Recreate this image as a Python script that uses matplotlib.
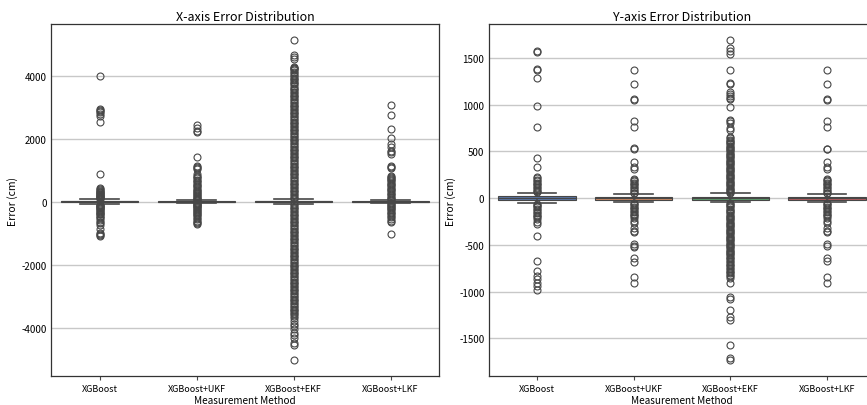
import matplotlib
matplotlib.use("Agg")
import matplotlib.pyplot as plt

plt.rcParams['font.family'] = ['Noto Sans CJK KR', 'DejaVu Sans']
plt.rcParams['axes.unicode_minus'] = False

methods = ["XGBoost", "XGBoost+UKF", "XGBoost+EKF", "XGBoost+LKF"]
box_colors = ["#5975a4", "#cc8963", "#5f9e6e", "#b55d60"]

# ---- X-axis error: box statistics (cm) ----
x_med = [5, 0, 5, 0]
x_q1 = [-25, -15, -25, -15]
x_q3 = [30, 15, 30, 15]
x_whislo = [-80, -45, -80, -45]
x_whishi = [85, 45, 80, 45]

x_fliers_xgb = [3980, 2950, 2920, 2880, 2850, 2780, 2720, 2520, 870, 420, 390, 370,
                340, 310, 290, 270, 250, 230, 210, 190, 170, 150, 130, 110, 95,
                -100, -115, -130, -150, -170, -190, -210, -240, -260, -290, -320,
                -350, -380, -410, -450, -490, -530, -600, -650, -690, -730, -880,
                -990, -1020, -1060, -1100]
x_fliers_ukf = [2440, 2350, 2250, 2200, 1410, 1130, 1100, 1070, 1050, 870, 820, 780,
                740, 700, 650, 610, 570, 530, 490, 450, 410, 370, 330, 300, 270, 240,
                210, 180, 150, 120, 90, 70, 55,
                -55, -70, -90, -110, -130, -150, -180, -210, -240, -270, -300, -330,
                -360, -400, -430, -470, -510, -560, -610, -650, -690, -720]
x_fliers_ekf = [5130, 4640, 4580, 4520, 4280, 4250, 4230, 4200,
                4170, 4120, 4075, 4030, 3980, 3935, 3890, 3845, 3800, 3760, 3720, 3665,
                3610, 3570, 3530, 3485, 3440, 3395, 3350, 3305, 3260, 3215, 3170, 3125,
                3080, 3035, 2990, 2945, 2900, 2855, 2810, 2765, 2720, 2675, 2630, 2585,
                2540, 2495, 2450, 2405, 2360, 2315, 2270, 2225, 2180, 2135, 2090, 2045,
                2000, 1955, 1910, 1865, 1820, 1775, 1730, 1685, 1640, 1595, 1550, 1505,
                1460, 1415, 1370, 1325, 1280, 1235, 1190, 1145, 1100, 1055, 1010, 965,
                920, 875, 830, 785, 740, 695, 650, 605, 560, 515, 470, 425, 380, 335,
                290, 245, 200, 160, 120, 90,
                -90, -120, -160, -200, -245, -290, -335, -380, -425, -470, -515, -560,
                -605, -650, -695, -740, -785, -830, -875, -920, -965, -1010, -1055,
                -1100, -1145, -1190, -1235, -1280, -1325, -1370, -1415, -1460, -1505,
                -1550, -1595, -1640, -1685, -1730, -1775, -1820, -1865, -1910, -1955,
                -2000, -2045, -2090, -2135, -2180, -2225, -2270, -2315, -2360, -2405,
                -2450, -2495, -2540, -2585, -2630, -2675, -2720, -2765, -2810, -2855,
                -2900, -2945, -2990, -3035, -3080, -3125, -3170, -3215, -3260, -3305,
                -3350, -3395, -3440, -3485, -3530, -3575, -3620, -3700, -3790, -3880,
                -3960, -4060, -4170, -4250, -4330, -4480, -4540, -5030]
x_fliers_lkf = [3080, 2760, 2320, 2030, 1830, 1720, 1610, 1560, 1500, 1130, 1100, 1060,
                820, 790, 760, 720, 680, 640, 600, 560, 520, 480, 440, 400, 360, 320,
                280, 240, 200, 160, 120, 80, 55,
                -55, -80, -110, -140, -170, -200, -240, -280, -320, -360, -400, -450,
                -500, -560, -610, -660, -1020]

# ---- Y-axis error: box statistics (cm) ----
y_med = [0, 0, 0, 0]
y_q1 = [-17, -17, -17, -17]
y_q3 = [18, 17, 17, 17]
y_whislo = [-56, -45, -46, -45]
y_whishi = [58, 45, 50, 45]

y_fliers_xgb = [1575, 1565, 1380, 1365, 1285, 980, 760, 425, 335, 225, 210, 195, 180,
                165, 150, 135, 120, 105, 90, 75, 65,
                -60, -70, -85, -100, -115, -130, -145, -160, -175, -190, -205, -220,
                -250, -280, -410, -670, -775, -830, -865, -905, -935, -980]
y_fliers_ukf = [1365, 1225, 1055, 1045, 820, 755, 535, 522, 390, 330, 310, 205, 195,
                180, 165, 150, 135, 120, 105, 90, 75, 60, 50,
                -50, -60, -75, -90, -105, -120, -135, -150, -165, -180, -195, -210,
                -240, -265, -315, -350, -365, -490, -510, -525, -635, -680, -840, -910]
y_fliers_ekf = [1690, 1600, 1570, 1545, 1365, 1235, 1225, 1135, 1110, 1090, 1075, 1055,
                975, 835, 820, 800, 745, 730, 650, 638, 625, 612, 600, 588, 575, 562,
                550, 537, 525, 512, 500, 487, 475, 462, 450, 437, 425, 412, 400, 387,
                375, 362, 350, 337, 325, 312, 300, 287, 275, 262, 250, 237, 225, 212,
                200, 187, 175, 162, 150, 137, 125, 112, 100, 87, 75, 62, 52,
                -50, -62, -75, -87, -100, -112, -125, -137, -150, -162, -175, -187,
                -200, -212, -225, -237, -250, -262, -275, -287, -300, -312, -325, -337,
                -350, -362, -375, -387, -400, -412, -425, -437, -450, -462, -475, -487,
                -500, -512, -525, -537, -550, -562, -575, -587, -600, -612, -625, -640,
                -655, -670, -685, -700, -715, -730, -745, -760, -775, -790, -805, -820,
                -835, -850, -910, -1060, -1075, -1200, -1270, -1300, -1575, -1710, -1730]
y_fliers_lkf = [1365, 1225, 1055, 1045, 820, 755, 530, 520, 390, 330, 310, 205, 195,
                180, 165, 150, 135, 120, 105, 90, 75, 60, 50,
                -50, -60, -75, -90, -105, -120, -135, -150, -165, -180, -195, -210,
                -240, -265, -315, -350, -365, -490, -515, -635, -670, -840, -910]

x_fliers = [x_fliers_xgb, x_fliers_ukf, x_fliers_ekf, x_fliers_lkf]
y_fliers = [y_fliers_xgb, y_fliers_ukf, y_fliers_ekf, y_fliers_lkf]

LINE = "#474747"


def make_stats(med, q1, q3, lo, hi, fl):
    return [dict(med=med[i], q1=q1[i], q3=q3[i], whislo=lo[i], whishi=hi[i],
                 fliers=fl[i], label=methods[i]) for i in range(len(methods))]


def draw(ax, stats, title):
    ax.set_axisbelow(True)
    ax.yaxis.grid(True, color="#c8c8c8", linewidth=1.0)
    bp = ax.bxp(stats, positions=range(len(methods)), widths=0.8, patch_artist=True,
                boxprops=dict(edgecolor=LINE, linewidth=0.8),
                medianprops=dict(color=LINE, linewidth=0.8),
                whiskerprops=dict(color=LINE, linewidth=1.2),
                capprops=dict(color=LINE, linewidth=1.2),
                capwidths=0.4,
                flierprops=dict(marker='o', markerfacecolor='none',
                                markeredgecolor=LINE, markersize=5.0,
                                markeredgewidth=0.8, linestyle='none'))
    for patch, c in zip(bp['boxes'], box_colors):
        patch.set_facecolor(c)
    ax.set_xlim(-0.5, len(methods) - 0.5)
    ax.set_xticks(range(len(methods)))
    ax.set_xticklabels(methods)
    ax.tick_params(axis='x', labelsize=6.5, length=3, width=0.8, color=LINE, pad=3)
    ax.tick_params(axis='y', labelsize=7.0, length=0, pad=3)
    for s in ax.spines.values():
        s.set_color("#333333")
        s.set_linewidth(0.9)
    ax.set_title(title, fontsize=9, pad=3)
    ax.set_xlabel("Measurement Method", fontsize=7.2, labelpad=1)
    ax.set_ylabel("Error (cm)", fontsize=7.5, labelpad=2.5)


fig = plt.figure(figsize=(8.67, 4.06), dpi=100)
ax1 = fig.add_axes([51 / 867, 1 - 377 / 406, 388 / 867, 352 / 406])
ax2 = fig.add_axes([488.6 / 867, 1 - 377 / 406, 386.7 / 867, 352 / 406])

draw(ax1, make_stats(x_med, x_q1, x_q3, x_whislo, x_whishi, x_fliers), "X-axis Error Distribution")
draw(ax2, make_stats(y_med, y_q1, y_q3, y_whislo, y_whishi, y_fliers), "Y-axis Error Distribution")

ax1.set_yticks([-4000, -2000, 0, 2000, 4000])
ax2.set_yticks([-1500, -1000, -500, 0, 500, 1000, 1500])

fig.savefig("out.png", dpi=100)
